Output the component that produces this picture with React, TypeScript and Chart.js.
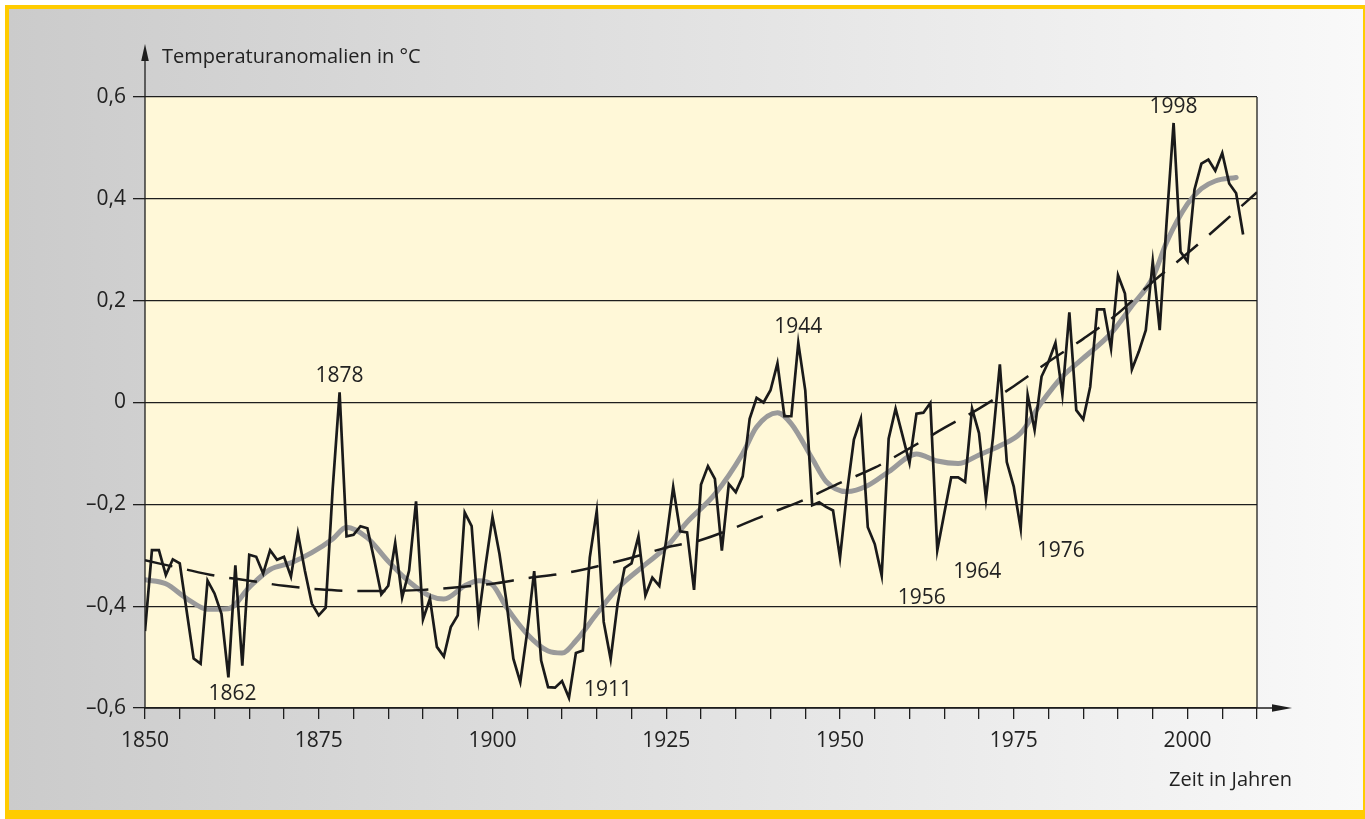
import React, { useEffect, useRef } from 'react';
import { Chart, registerables } from 'chart.js';

Chart.register(...registerables);

// ---------- data ----------
const START_YEAR = 1850;

// annual global temperature anomalies (°C), 1850 … 2008
const annualAnomalies: number[] = [
  // 1850-1859
  -0.449, -0.29, -0.29, -0.339, -0.308, -0.316, -0.41, -0.503, -0.513, -0.35,
  // 1860-1869
  -0.375, -0.415, -0.54, -0.32, -0.517, -0.299, -0.303, -0.336, -0.29, -0.309,
  // 1870-1879
  -0.303, -0.342, -0.257, -0.33, -0.395, -0.418, -0.403, -0.17, 0.02, -0.263,
  // 1880-1889
  -0.26, -0.243, -0.247, -0.31, -0.377, -0.36, -0.276, -0.383, -0.33, -0.194,
  // 1890-1899
  -0.426, -0.385, -0.48, -0.499, -0.441, -0.418, -0.216, -0.243, -0.424, -0.32,
  // 1900-1909
  -0.225, -0.297, -0.39, -0.503, -0.549, -0.45, -0.331, -0.507, -0.559, -0.56,
  // 1910-1919
  -0.547, -0.58, -0.492, -0.487, -0.304, -0.213, -0.431, -0.504, -0.395, -0.325,
  // 1920-1929
  -0.316, -0.263, -0.379, -0.344, -0.36, -0.27, -0.166, -0.253, -0.255, -0.368,
  // 1930-1939
  -0.161, -0.125, -0.15, -0.291, -0.16, -0.176, -0.145, -0.032, 0.009, 0.0,
  // 1940-1949
  0.024, 0.077, -0.027, -0.027, 0.117, 0.024, -0.202, -0.196, -0.205, -0.212,
  // 1950-1959
  -0.305, -0.177, -0.073, -0.032, -0.245, -0.278, -0.34, -0.071, -0.012, -0.065,
  // 1960-1969
  -0.119, -0.022, -0.02, -0.001, -0.29, -0.218, -0.147, -0.147, -0.156, -0.012,
  // 1970-1979
  -0.06, -0.189, -0.07, 0.075, -0.117, -0.165, -0.248, 0.015, -0.054, 0.051,
  // 1980-1989
  0.08, 0.117, 0.015, 0.177, -0.015, -0.033, 0.031, 0.183, 0.183, 0.106,
  // 1990-1999
  0.25, 0.214, 0.065, 0.1, 0.142, 0.277, 0.142, 0.356, 0.549, 0.296,
  // 2000-2008
  0.277, 0.418, 0.469, 0.477, 0.455, 0.49, 0.43, 0.411, 0.33,
];

// smoothed curve (grey)
const smoothYears: number[] = [
  1850, 1853, 1856, 1859, 1862, 1865, 1868, 1871, 1874, 1877, 1879, 1882, 1885, 1888,
  1891, 1893, 1896, 1898, 1900, 1902, 1905, 1908, 1910, 1912, 1915, 1918, 1922, 1925,
  1928, 1932, 1936, 1938, 1941, 1943, 1946, 1948, 1951, 1954, 1957, 1961, 1964, 1967,
  1970, 1973, 1976, 1979, 1982, 1985, 1989, 1992, 1995, 1997, 2000, 2002, 2004, 2007,
];
const smoothValues: number[] = [
  -0.348, -0.356, -0.385, -0.406, -0.405, -0.363, -0.328, -0.315, -0.295, -0.268, -0.245, -0.266, -0.312, -0.352,
  -0.38, -0.386, -0.36, -0.35, -0.358, -0.402, -0.455, -0.488, -0.492, -0.468, -0.415, -0.365, -0.318, -0.284,
  -0.235, -0.18, -0.1, -0.048, -0.02, -0.042, -0.11, -0.155, -0.175, -0.163, -0.136, -0.101, -0.115, -0.12,
  -0.103, -0.085, -0.06, 0.0, 0.051, 0.087, 0.136, 0.19, 0.245, 0.315, 0.39, 0.42, 0.435, 0.442,
];

// long-term trend (dashed)
const trendYears: number[] = [
  1850, 1855, 1860, 1865, 1870, 1875, 1880, 1885, 1890, 1895, 1900, 1905, 1910, 1915, 1920, 1925, 1930,
  1935, 1940, 1945, 1950, 1955, 1960, 1965, 1970, 1975, 1980, 1985, 1990, 1995, 2000, 2005, 2010,
];
const trendValues: number[] = [
  -0.31, -0.325, -0.34, -0.35, -0.36, -0.367, -0.37, -0.37, -0.368, -0.363, -0.356, -0.345, -0.336, -0.322, -0.305, -0.285, -0.27,
  -0.245, -0.217, -0.19, -0.158, -0.128, -0.09, -0.05, -0.012, 0.032, 0.08, 0.125, 0.175, 0.237, 0.293, 0.352, 0.413,
];

const X_MIN = 1850;
const X_MAX = 2010;
const X_TICK_STEP = 5;
const X_LABEL_STEP = 25;
const Y_MIN = -0.6;
const Y_MAX = 0.6;
const Y_TICK_STEP = 0.2;

const yAxisTitle = 'Temperaturanomalien in °C';
const xAxisTitle = 'Zeit in Jahren';

// highlighted years and where their labels sit relative to the point
const highlightYears: number[] = [1862, 1878, 1911, 1944, 1956, 1964, 1976, 1998];
const highlightPlacement: string[] = ['below', 'above', 'right', 'above', 'belowRight', 'belowRight', 'belowRight', 'above'];

// ---------- styling ----------
const FONT = '"Open Sans", "Noto Sans", sans-serif';
const INK = '#1e1e1e';

const fmtY = (v: number) => {
  if (Math.abs(v) < 1e-9) return '0';
  const s = Math.abs(v).toFixed(1).replace('.', ',');
  return v < 0 ? '\u2013' + s : s;
};

const decorPlugin = {
  id: 'decor',
  beforeDraw(chart: any) {
    const { ctx, chartArea: a } = chart;
    ctx.save();
    ctx.fillStyle = '#FFF8D8';
    ctx.fillRect(a.left, a.top, a.right - a.left, a.bottom - a.top);
    ctx.restore();
  },
  afterDraw(chart: any) {
    const { ctx, chartArea: a, scales } = chart;
    const xs = scales.x;
    const ys = scales.y;
    ctx.save();
    ctx.strokeStyle = INK;
    ctx.fillStyle = INK;
    ctx.lineWidth = 1.3;

    // right frame line
    ctx.beginPath();
    ctx.moveTo(a.right, a.top);
    ctx.lineTo(a.right, a.bottom);
    ctx.stroke();

    // y axis with arrow
    ctx.beginPath();
    ctx.moveTo(a.left, a.bottom);
    ctx.lineTo(a.left, a.top - 40);
    ctx.stroke();
    ctx.beginPath();
    ctx.moveTo(a.left, a.top - 53);
    ctx.lineTo(a.left - 3.8, a.top - 36);
    ctx.lineTo(a.left + 3.8, a.top - 36);
    ctx.closePath();
    ctx.fill();

    // x axis with arrow
    ctx.beginPath();
    ctx.moveTo(a.left, a.bottom);
    ctx.lineTo(a.right + 18, a.bottom);
    ctx.stroke();
    ctx.beginPath();
    ctx.moveTo(a.right + 35, a.bottom);
    ctx.lineTo(a.right + 15, a.bottom - 3.8);
    ctx.lineTo(a.right + 15, a.bottom + 3.8);
    ctx.closePath();
    ctx.fill();

    // axis titles
    ctx.fillStyle = '#222';
    ctx.font = `20px ${FONT}`;
    ctx.textBaseline = 'middle';
    ctx.textAlign = 'left';
    ctx.fillText(yAxisTitle, a.left + 17, a.top - 40);
    ctx.textAlign = 'right';
    ctx.fillText(xAxisTitle, a.right + 35, a.bottom + 72);

    // highlighted year labels
    ctx.font = `21px ${FONT}`;
    highlightYears.forEach((yr, i) => {
      const v = annualAnomalies[yr - START_YEAR];
      const px = xs.getPixelForValue(yr);
      const py = ys.getPixelForValue(v);
      const place = highlightPlacement[i];
      let cx = px;
      let cy = py;
      if (place === 'above') { cx = px; cy = py - 16; }
      else if (place === 'below') { cx = px + 4; cy = py + 17; }
      else if (place === 'right') { cx = px + 39; cy = py - 8; }
      else if (place === 'belowRight') { cx = px + 40; cy = py + 22; }
      ctx.textAlign = 'center';
      ctx.fillText(String(yr), cx, cy);
    });
    ctx.restore();
  },
};

export default function App() {
  const canvasRef = useRef<HTMLCanvasElement | null>(null);

  useEffect(() => {
    const canvas = canvasRef.current;
    if (!canvas) return;

    const annualData = annualAnomalies.map((v, i) => ({ x: START_YEAR + i, y: v }));
    const smoothData = smoothYears.map((yr, i) => ({ x: yr, y: smoothValues[i] }));
    const trendData = trendYears.map((yr, i) => ({ x: yr, y: trendValues[i] }));

    const chart = new Chart(canvas, {
      type: 'line',
      data: {
        datasets: [
          {
            label: 'Jahreswerte',
            data: annualData,
            borderColor: '#1a1a1a',
            borderWidth: 2.7,
            borderJoinStyle: 'miter',
            pointRadius: 0,
            tension: 0,
            fill: false,
            order: 1,
          },
          {
            label: 'Trend',
            data: trendData,
            borderColor: '#1a1a1a',
            borderWidth: 2.5,
            borderDash: [28, 15],
            pointRadius: 0,
            cubicInterpolationMode: 'monotone',
            fill: false,
            order: 2,
          },
          {
            label: 'Geglättet',
            data: smoothData,
            borderColor: '#9a9a9a',
            borderWidth: 5,
            borderCapStyle: 'round',
            pointRadius: 0,
            cubicInterpolationMode: 'monotone',
            fill: false,
            order: 3,
          },
        ],
      },
      options: {
        responsive: false,
        animation: false,
        events: [],
        layout: { padding: { top: 97, right: 108, bottom: 0, left: 0 } },
        plugins: {
          legend: { display: false },
          tooltip: { enabled: false },
          title: { display: false },
        },
        scales: {
          x: {
            type: 'linear',
            min: X_MIN,
            max: X_MAX,
            afterFit: (s: any) => { s.height = 111; },
            afterBuildTicks: (s: any) => {
              const t = [];
              for (let v = X_MIN; v <= X_MAX; v += X_TICK_STEP) t.push({ value: v });
              s.ticks = t;
            },
            ticks: {
              autoSkip: false,
              maxRotation: 0,
              padding: 9,
              color: '#222',
              font: { family: FONT, size: 21 },
              callback: (v: any) => (Number(v) % X_LABEL_STEP === 0 ? String(v) : ''),
            },
            grid: {
              display: true,
              drawOnChartArea: false,
              drawTicks: true,
              tickLength: 11,
              color: INK,
              lineWidth: 1.3,
            },
            border: { display: false },
          },
          y: {
            type: 'linear',
            min: Y_MIN,
            max: Y_MAX,
            afterFit: (s: any) => { s.width = 145; },
            afterBuildTicks: (s: any) => {
              const t = [];
              const n = Math.round((Y_MAX - Y_MIN) / Y_TICK_STEP);
              for (let i = 0; i <= n; i++) t.push({ value: Y_MIN + i * Y_TICK_STEP });
              s.ticks = t;
            },
            ticks: {
              padding: 7,
              color: '#222',
              font: { family: FONT, size: 21 },
              callback: (v: any) => fmtY(Number(v)),
            },
            grid: {
              display: true,
              drawOnChartArea: true,
              drawTicks: true,
              tickLength: 12,
              color: INK,
              lineWidth: 1.3,
            },
            border: { display: false },
          },
        },
      },
      plugins: [decorPlugin],
    } as any);

    return () => chart.destroy();
  }, []);

  return (
    <div style={{ position: 'fixed', left: 0, top: 0, width: 1365, height: 819, background: '#fff', overflow: 'hidden' }}>
      <div
        style={{
          position: 'absolute',
          left: 5,
          top: 5,
          right: 0,
          bottom: 0,
          boxSizing: 'border-box',
          borderTop: '4px solid #FFCC00',
          borderLeft: '4px solid #FFCC00',
          borderRight: '2px solid #FFCC00',
          borderBottom: '9px solid #FFCC00',
          background: 'linear-gradient(to right, #cbcbcb 0%, #e2e2e2 50%, #f9f9f9 100%)',
        }}
      />
      <canvas ref={canvasRef} width={1365} height={819} style={{ position: 'absolute', left: 0, top: 0 }} />
    </div>
  );
}
